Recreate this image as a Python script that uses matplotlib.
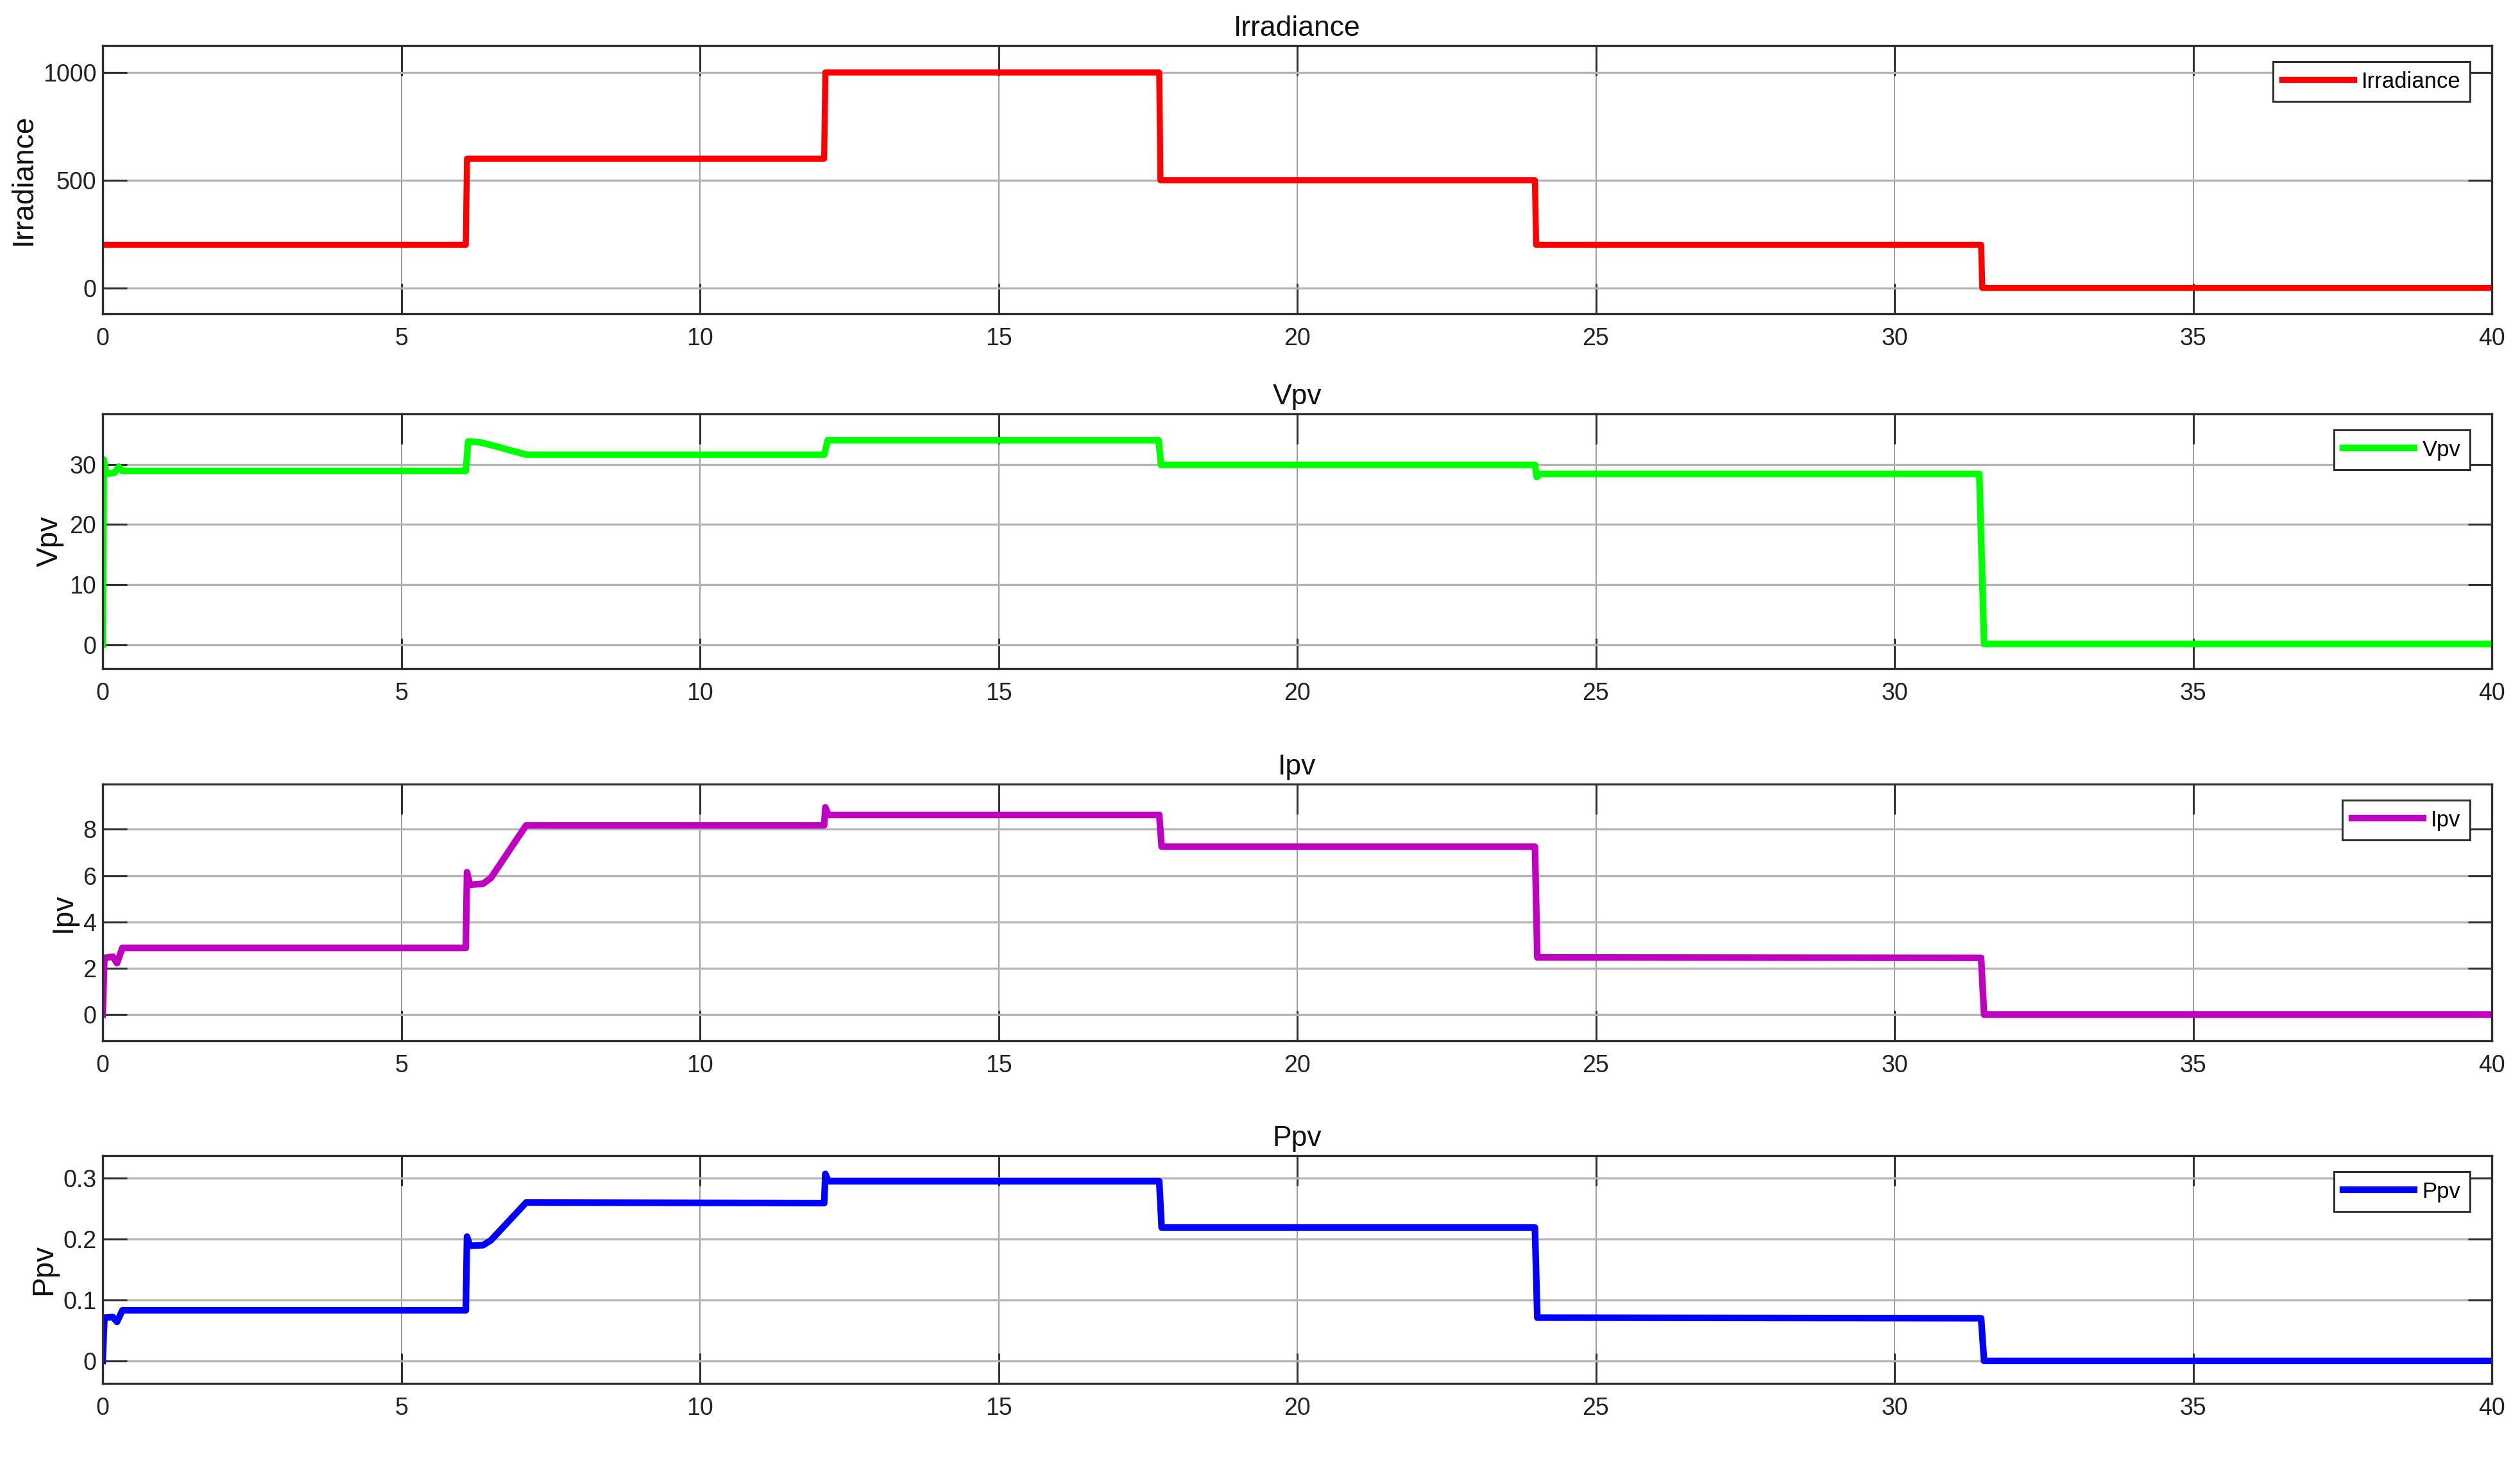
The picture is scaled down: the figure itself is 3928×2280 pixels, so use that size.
import matplotlib
matplotlib.use("Agg")
import matplotlib.pyplot as plt

# Time breakpoints (s) and values
irr_t = [0, 6.08, 6.1, 12.08, 12.1, 17.69, 17.71, 23.98, 24.0, 31.45, 31.47, 40]
irr_v = [200, 200, 600, 600, 1000, 1000, 500, 500, 200, 200, 0, 0]

vpv_t = [0, 0.02, 0.06, 0.2, 0.27, 0.33, 6.08, 6.12, 6.3, 6.55, 6.8, 7.1,
         12.08, 12.14, 17.68, 17.72, 23.98, 24.01, 24.08, 31.42, 31.5, 40]
vpv_v = [0, 30.8, 28.4, 28.6, 29.6, 28.9, 28.9, 33.8, 33.7, 33.1, 32.4, 31.6,
         31.6, 34.0, 34.0, 29.9, 29.9, 27.9, 28.4, 28.4, 0.1, 0.1]

ipv_t = [0, 0.03, 0.17, 0.24, 0.33, 6.08, 6.1, 6.15, 6.37, 6.5, 7.09,
         12.08, 12.1, 12.15, 17.69, 17.73, 23.98, 24.02, 31.45, 31.5, 40]
ipv_v = [0, 2.45, 2.5, 2.22, 2.88, 2.88, 6.15, 5.6, 5.65, 5.9, 8.17,
         8.17, 8.95, 8.62, 8.62, 7.25, 7.25, 2.47, 2.45, 0, 0]

ppv_t = [0, 0.03, 0.17, 0.24, 0.33, 6.08, 6.1, 6.15, 6.37, 6.5, 7.09,
         12.08, 12.1, 12.15, 17.69, 17.73, 23.98, 24.02, 31.45, 31.5, 40]
ppv_v = [0, 0.071, 0.072, 0.064, 0.083, 0.083, 0.204, 0.189, 0.19, 0.198, 0.26,
         0.259, 0.307, 0.295, 0.295, 0.219, 0.219, 0.071, 0.07, 0, 0]

x_ticks = [0, 5, 10, 15, 20, 25, 30, 35, 40]

panels = [
    ("Irradiance", irr_t, irr_v, "#ff0000", [0, 500, 1000], ["0", "500", "1000"], (-120, 1125)),
    ("Vpv", vpv_t, vpv_v, "#00ff00", [0, 10, 20, 30], ["0", "10", "20", "30"], (-4, 38.4)),
    ("Ipv", ipv_t, ipv_v, "#c000c0", [0, 2, 4, 6, 8], ["0", "2", "4", "6", "8"], (-1.13, 9.95)),
    ("Ppv", ppv_t, ppv_v, "#0000ff", [0, 0.1, 0.2, 0.3], ["0", "0.1", "0.2", "0.3"], (-0.037, 0.337)),
]
line_widths = [6.8, 7.4, 7.4, 7.4]

# axes boxes in pixels: (top, bottom)
W, H = 3928, 2280
left_px, right_px = 160, 3884
boxes = [(71, 489), (645, 1042), (1222, 1622), (1801, 2156)]

plt.rcParams["font.family"] = ["Liberation Sans", "DejaVu Sans"]

fig = plt.figure(figsize=(W / 100, H / 100), dpi=100)
fig.patch.set_facecolor("white")

for (name, t, v, color, yt, ytl, ylim), lw, (top, bot) in zip(panels, line_widths, boxes):
    ax = fig.add_axes([left_px / W, 1 - bot / H, (right_px - left_px) / W, (bot - top) / H])
    ax.plot(t, v, color=color, linewidth=lw, label=name)
    ax.set_xlim(0, 40)
    ax.set_ylim(*ylim)
    ax.set_xticks(x_ticks)
    ax.set_xticklabels([str(x) for x in x_ticks])
    ax.set_yticks(yt)
    ax.set_yticklabels(ytl)

    ax.grid(True, axis="y", color="#b4b4b4", linewidth=2.4)
    ax.grid(True, axis="x", color="#8c8c8c", linewidth=1.2)
    ax.set_axisbelow(True)
    for s in ax.spines.values():
        s.set_color("#303030")
        s.set_linewidth(2.4)
    ax.tick_params(axis="both", direction="in", top=True, right=True,
                   colors="#303030", width=2.2, labelcolor="#222222", labelsize=27)
    ax.tick_params(axis="x", length=34, pad=15)
    ax.tick_params(axis="y", length=27, pad=7)

    ax.set_title(name, fontsize=32, color="#111111", pad=11)
    ax.set_ylabel(name, fontsize=33, color="#111111", labelpad=6)

    h_px = bot - top
    leg = ax.legend(loc="upper right", bbox_to_anchor=(1 - 34 / (right_px - left_px), 1 - 25 / h_px),
                    borderaxespad=0, fontsize=25, handlelength=3.2, handletextpad=0.35,
                    borderpad=0.42, fancybox=False, framealpha=1, edgecolor="#303030")
    leg.get_frame().set_linewidth(2.2)
    for line in leg.get_lines():
        line.set_linewidth(lw)

fig.savefig("out.png", dpi=100, facecolor="white")
